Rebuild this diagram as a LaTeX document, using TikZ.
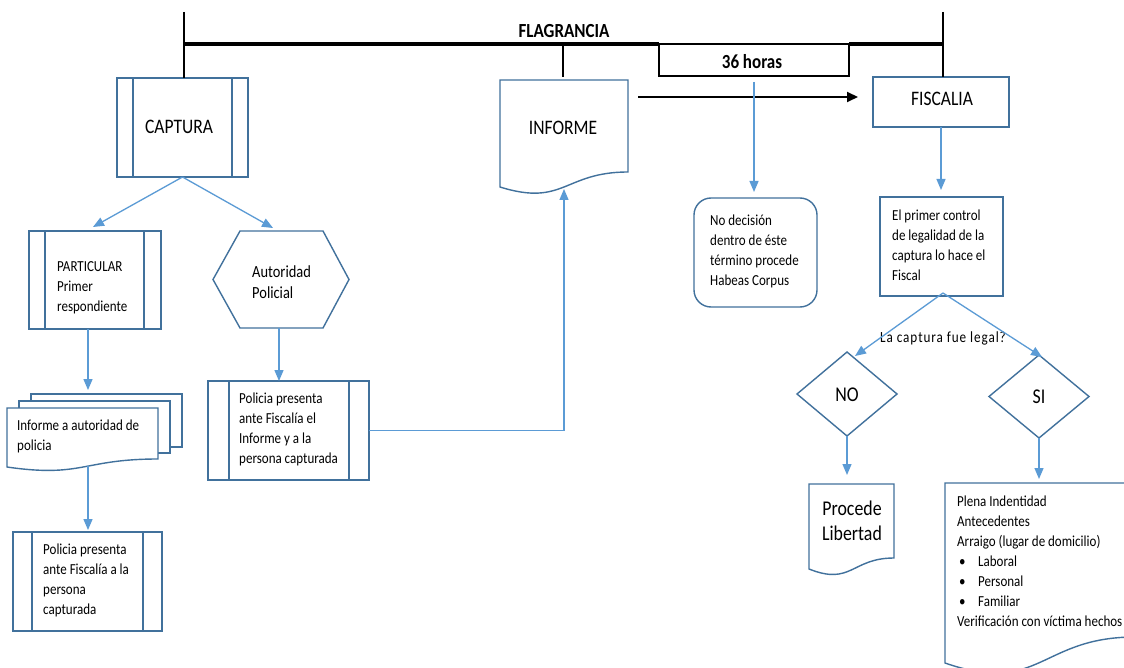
\documentclass[tikz,border=0pt]{standalone}
\usepackage{fontspec}
\setmainfont{Carlito}[FakeStretch=0.85]
\newfontfamily\spacedfont{Carlito}[FakeStretch=0.85,LetterSpace=6]
\usetikzlibrary{arrows.meta,shapes.geometric,calc}
\definecolor{boxblue}{HTML}{41719C}
\definecolor{arrblue}{HTML}{5B9BD5}
\newcommand\docshape[6]{\filldraw[box,fill=white] (#1,#2) -- (#3,#2) -- (#3,#4) .. controls ({(#1+#3)/2},#4) and ({(#1+#3)/2},#6) .. (#1,#5) -- cycle;}
\begin{document}
\begin{tikzpicture}[x=1pt,y=-1pt,
  box/.style={draw=boxblue,line width=1.4pt},
  arr/.style={draw=arrblue,line width=1.3pt,-{Triangle[length=11pt,width=9pt]}},
  blk/.style={draw=black,line width=2pt},
  txt/.style={font=\fontsize{15.3}{20}\selectfont,align=left,inner sep=0pt,anchor=west},
  big/.style={font=\fontsize{20.6}{22}\selectfont,inner sep=0pt},
  hd/.style={font=\fontsize{20}{20}\selectfont\bfseries,inner sep=0pt},
  shp/.style={inner sep=0pt,outer sep=0pt},
  proc/.style={shp,box,fill=white}
]
\useasboundingbox (0,0) rectangle (1124,668);
\fill[white] (0,0) rectangle (1124,668);
\clip (0,0) rectangle (1124,668);

% ---------- top timeline ----------
\coordinate (tl) at (184,12);
\coordinate (tr) at (943,12);
\coordinate (mt) at (563,44);
\node[hd] (flag) at (564,31) {FLAGRANCIA};
\node[shp,draw,line width=2pt,minimum width=190,minimum height=32] (horas) at (754,60) {};
\node[hd] (horast) at (752,62) {36 horas};

% ---------- shapes ----------
% CAPTURA
\node[proc,minimum width=131,minimum height=99] (captura) at (182.5,127.5) {};
\draw[box] ([xshift=16]captura.north west) -- ([xshift=16]captura.south west);
\draw[box] ([xshift=-16]captura.north east) -- ([xshift=-16]captura.south east);
\node[big] (capturat) at (179,127) {CAPTURA};

% PARTICULAR
\node[proc,minimum width=132,minimum height=98] (particular) at (95,280) {};
\draw[box] ([xshift=16]particular.north west) -- ([xshift=16]particular.south west);
\draw[box] ([xshift=-17]particular.north east) -- ([xshift=-17]particular.south east);
\node[txt] (particulart) at (57,288) {PARTICULAR\\Primer\\respondiente};

% Autoridad policial (hexagon)
\node[shp,minimum width=136,minimum height=97] (autoridad) at (281,279.5) {};
\draw[box] (autoridad.west) -- ([xshift=27]autoridad.north west) -- ([xshift=-26]autoridad.north east)
  -- (autoridad.east) -- ([xshift=-26]autoridad.south east) -- ([xshift=27]autoridad.south west) -- cycle;
\node[txt,font=\fontsize{17}{21}\selectfont] (autoridadt) at (252,282.5) {Autoridad\\Policial};

% Informe multi-document
\node[shp,minimum width=175,minimum height=75] (multi) at (94.5,431.5) {};
\filldraw[box,fill=white] (31,394) rectangle (182,447);
\filldraw[box,fill=white] (19,401) rectangle (170,453);
\docshape{7}{408}{158}{459}{467}{478}
\node[txt] (multit) at (17,436.5) {Informe a autoridad de\\policia};

% Policia presenta (left)
\node[proc,minimum width=149,minimum height=99] (polb) at (87.5,581.5) {};
\draw[box] ([xshift=19]polb.north west) -- ([xshift=19]polb.south west);
\draw[box] ([xshift=-19]polb.north east) -- ([xshift=-19]polb.south east);
\node[txt] (polbt) at (43,580) {Policia presenta\\ante Fiscalía a la\\persona\\capturada};

% Policia presenta (middle)
\node[proc,minimum width=161,minimum height=99] (polm) at (288.5,430.5) {};
\draw[box] ([xshift=21]polm.north west) -- ([xshift=21]polm.south west);
\draw[box] ([xshift=-20]polm.north east) -- ([xshift=-20]polm.south east);
\node[txt] (polmt) at (239,429) {Policia presenta\\ante Fiscalía el\\Informe y  a la\\persona capturada};

% INFORME document
\node[shp,minimum width=128,minimum height=108] (informe) at (564,134) {};
\docshape{500}{80}{628}{172}{187}{207}
\node[big] (informet) at (563,128) {INFORME};

% FISCALIA
\node[proc,minimum width=136,minimum height=50] (fiscalia) at (941,102) {};
\node[big] (fiscaliat) at (942,99) {FISCALIA};

% No decision
\node[shp,box,rounded corners=17pt,minimum width=123,minimum height=109] (nodec) at (755.5,252.5) {};
\node[txt] (nodect) at (710,251) {No decisión\\dentro de éste\\término procede\\Habeas Corpus};

% El primer control
\node[proc,minimum width=123,minimum height=99] (control) at (941.5,246.5) {};
\node[txt] (controlt) at (892,245) {El primer control\\de legalidad de la\\captura lo hace el\\Fiscal};

% question
\node[font=\spacedfont\fontsize{15.5}{16}\selectfont,inner sep=0pt] (pregunta) at (943,338) {La captura fue legal?};

% diamonds
\node[shp,box,diamond,minimum width=100,minimum height=84] (no) at (847,394) {};
\node[big,font=\fontsize{21}{20}\selectfont] (not) at (847,395) {NO};
\node[shp,box,diamond,minimum width=100,minimum height=83] (si) at (1039,396.5) {};
\node[big,font=\fontsize{21}{20}\selectfont] (sit) at (1039,397) {SI};

% Procede Libertad
\node[shp,minimum width=85,minimum height=86] (procede) at (851.5,527) {};
\docshape{809}{484}{894}{558}{569}{586}
\node[font=\fontsize{21}{25}\selectfont,align=center,inner sep=0pt] (procedet) at (852,520.5) {Procede\\Libertad};

% big document
\node[shp,minimum width=190,minimum height=180] (plena) at (1040,573) {};
\docshape{945}{483}{1135}{637}{663}{696}
\node[txt] (plenat) at (957,561) {Plena Indentidad\\Antecedentes\\Arraigo (lugar de domicilio)\\
  \hspace*{2pt}\makebox[19pt][l]{•}Laboral\\
  \hspace*{2pt}\makebox[19pt][l]{•}Personal\\
  \hspace*{2pt}\makebox[19pt][l]{•}Familiar\\
  Verificación con víctima hechos};

% ---------- timeline lines ----------
\draw[line width=3.5pt] (tl |- mt) -- (horas.north west);
\draw[line width=3.5pt] (horas.north east) -- (tr |- mt);
\draw[blk] (tl) -- (tl |- captura.north);
\draw[blk] (tr) -- (tr |- fiscalia.north);
\draw[blk] (mt) -- ([yshift=3pt]mt |- informe.north);
\coordinate (bstart) at (638,97);
\draw[line width=1.8pt,-{Triangle[length=11pt,width=10pt]}] (bstart) -- ([xshift=-15]bstart -| fiscalia.west);

% ---------- connectors ----------
\draw[arr] (captura.south) -- ([shift={(-2,-4)}]particular.north);
\draw[arr] (captura.south) -- ([shift={(-8,-3)}]autoridad.north);
\draw[arr] ([xshift=-7]particular.south) -- ([xshift=-7,yshift=4]particular.south |- multi.north);
\coordinate (m1) at (88,466);
\draw[arr] (m1) -- ([yshift=2]m1 |- polb.north);
\draw[arr] ([xshift=-2]autoridad.south) -- ([xshift=-2]autoridad.south |- polm.north);
\draw[arr] (polm.east) -| ([yshift=-1]informe.south);
\draw[arr,shorten <=6pt] (horas.south) -- ([yshift=6]horas.south |- nodec.north);
\draw[arr] (fiscalia.south) -- ([yshift=7]fiscalia.south |- control.north);
\coordinate (apex) at (943,293);
\draw[arr] (apex) -- ([shift={(8,4)}]no.north);
\draw[arr] (apex) -- ([shift={(3,2)}]si.north);
\draw[arr] (no.south) -- ([yshift=9]no.south |- procede.north);
\draw[arr] (si.south) -- ([yshift=4]si.south |- plena.north);
\end{tikzpicture}
\end{document}
